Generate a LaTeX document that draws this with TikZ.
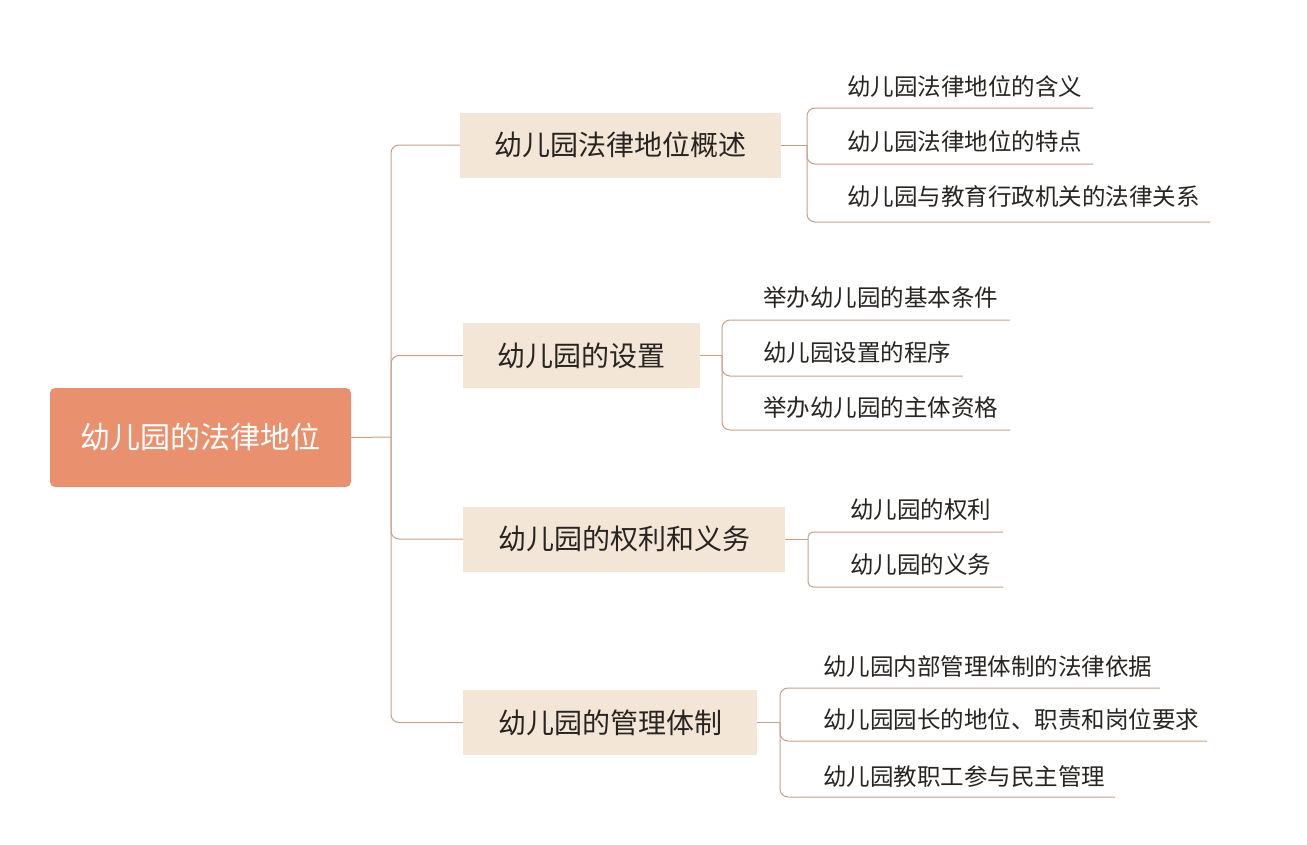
\documentclass[tikz,border=0pt]{standalone}
\usepackage{fontspec}
\setmainfont{Noto Sans CJK SC}
\usepackage{tikz}

\definecolor{rootfill}{RGB}{233,145,110}
\definecolor{boxfill}{RGB}{243,230,214}
\definecolor{linkcol}{RGB}{200,160,135}
\definecolor{textcol}{RGB}{40,36,34}

\begin{document}
\begin{tikzpicture}[x=1pt,y=-1pt,
  rootbox/.style={fill=rootfill,rounded corners=5pt,text=white,font=\fontsize{30}{30}\selectfont,
    minimum width=301pt,minimum height=99pt,inner sep=0pt},
  topicbox/.style={fill=boxfill,text=textcol,font=\fontsize{28}{28}\selectfont,
    minimum height=65pt,inner sep=0pt,anchor=west},
  item/.style={text=textcol,font=\fontsize{23.5}{23.5}\selectfont,inner sep=0pt,anchor=west},
  link/.style={draw=linkcol,line width=1pt,rounded corners=8pt}]
\useasboundingbox[fill=white] (0,0) rectangle (1307,844);

\node[rootbox] (root) at (200.5,437.5) {幼儿园的法律地位};

\node[topicbox,minimum width=321pt] (s1) at (460,145) {幼儿园法律地位概述};
\node[topicbox,minimum width=237pt] (s2) at (463,355.5) {幼儿园的设置};
\node[topicbox,minimum width=322pt] (s3) at (463,539) {幼儿园的权利和义务};
\node[topicbox,minimum width=294pt] (s4) at (463,722.5) {幼儿园的管理体制};

% trunk
\coordinate (t) at (391,437);
\draw[link] (root.east) -- (t);
\foreach \s in {s1,s2,s3,s4}
  \draw[link] (t) |- (\s.west);

% overview
\node[item] (a1) at (847,87) {幼儿园法律地位的含义};
\node[item] (a2) at (847,142) {幼儿园法律地位的特点};
\node[item] (a3) at (847,197) {幼儿园与教育行政机关的法律关系};
\coordinate (j1) at (807,145);
\coordinate (a1e) at (1093,108);
\coordinate (a2e) at (1093,164);
\coordinate (a3e) at (1210,222);

% setting up
\node[item] (b1) at (763,298) {举办幼儿园的基本条件};
\node[item] (b2) at (763,353) {幼儿园设置的程序};
\node[item] (b3) at (763,408) {举办幼儿园的主体资格};
\coordinate (j2) at (722,355.5);
\coordinate (b1e) at (1010,320);
\coordinate (b2e) at (963,376);
\coordinate (b3e) at (1010,430);

% rights and duties
\node[item] (c1) at (850,510) {幼儿园的权利};
\node[item] (c2) at (850,565) {幼儿园的义务};
\coordinate (j3) at (808,539);
\coordinate (c1e) at (1003,532);
\coordinate (c2e) at (1003,587);

% management
\node[item] (d1) at (823,667) {幼儿园内部管理体制的法律依据};
\node[item] (d2) at (823,720) {幼儿园园长的地位、职责和岗位要求};
\node[item] (d3) at (823,777) {幼儿园教职工参与民主管理};
\coordinate (j4) at (780,722.5);
\coordinate (d1e) at (1160,688);
\coordinate (d2e) at (1207,741);
\coordinate (d3e) at (1115,797);

\draw[link] (s1.east) -- (j1);
\foreach \e in {a1e,a2e,a3e} \draw[link] (j1) |- (\e);
\draw[link] (s2.east) -- (j2);
\foreach \e in {b1e,b2e,b3e} \draw[link] (j2) |- (\e);
\draw[link] (s3.east) -- (j3);
\foreach \e in {c1e,c2e} \draw[link,rounded corners=5pt] (j3) |- (\e);
\draw[link] (s4.east) -- (j4);
\foreach \e in {d1e,d2e,d3e} \draw[link] (j4) |- (\e);
\end{tikzpicture}
\end{document}
